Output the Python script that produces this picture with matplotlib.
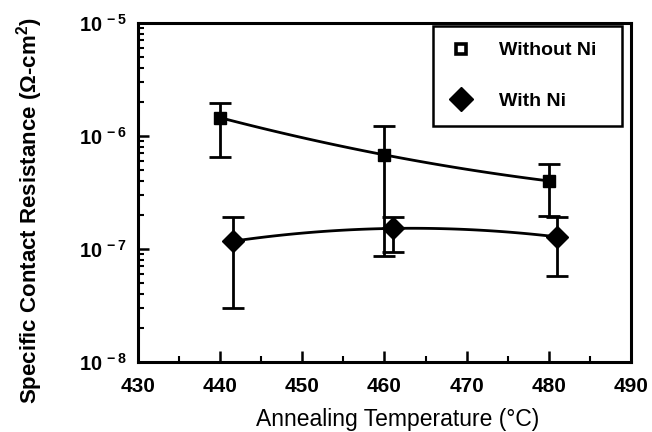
import numpy as np
import matplotlib
matplotlib.use("Agg")
import matplotlib.pyplot as plt
from matplotlib.lines import Line2D
from matplotlib.ticker import FixedLocator, LogLocator, FuncFormatter, NullFormatter

plt.rcParams['font.family'] = ['Liberation Sans', 'DejaVu Sans']
plt.rcParams['mathtext.fontset'] = 'custom'
plt.rcParams['mathtext.rm'] = 'Liberation Sans'
plt.rcParams['mathtext.bf'] = 'Liberation Sans:bold'

# Without Ni (squares)
temp_without = [440.0, 460.0, 480.0]
rc_without = [1.45e-6, 6.8e-7, 4.0e-7]
rc_without_hi = [1.95e-6, 1.23e-6, 5.7e-7]
rc_without_lo = [6.5e-7, 8.6e-8, 1.95e-7]

# With Ni (diamonds)
temp_with = [441.5, 461.0, 481.0]
rc_with = [1.17e-7, 1.52e-7, 1.28e-7]
rc_with_hi = [1.92e-7, 1.92e-7, 1.92e-7]
rc_with_lo = [3.0e-8, 9.4e-8, 5.8e-8]

x_ticks = [430, 440, 450, 460, 470, 480, 490]


def smooth_curve(x, y):
    # quadratic through the three points, in log space
    c = np.polyfit(x, np.log10(y), 2)
    xs = np.linspace(x[0], x[-1], 100)
    return xs, 10 ** np.polyval(c, xs)


fig = plt.figure(figsize=(6.52, 4.32), dpi=100)
ax = fig.add_axes([0.2117, 0.162, 0.756, 0.785])

for x, y, hi, lo, mk, ms in [
    (temp_without, rc_without, rc_without_hi, rc_without_lo, 's', 8),
    (temp_with, rc_with, rc_with_hi, rc_with_lo, 'D', 11),
]:
    xs, ys = smooth_curve(x, y)
    ax.plot(xs, ys, color='black', lw=2, zorder=2)
    yerr = [np.array(y) - np.array(lo), np.array(hi) - np.array(y)]
    ax.errorbar(x, y, yerr=yerr, fmt='none', ecolor='black', elinewidth=2,
                capsize=8, capthick=2, zorder=3)
    ax.plot(x, y, linestyle='none', marker=mk, ms=ms, color='black', zorder=4)

ax.set_yscale('log')
ax.set_xlim(430, 490)
ax.set_ylim(1e-8, 1e-5)

ax.xaxis.set_major_locator(FixedLocator(x_ticks))
ax.xaxis.set_minor_locator(FixedLocator([435, 445, 455, 465, 475, 485]))
ax.yaxis.set_major_locator(LogLocator(base=10, numticks=10))
ax.yaxis.set_minor_locator(LogLocator(base=10, subs=np.arange(2, 10), numticks=10))
ax.yaxis.set_minor_formatter(NullFormatter())
ax.yaxis.set_major_formatter(FuncFormatter(
    lambda v, p: r'$\mathbf{10^{\,%d}}$' % int(round(np.log10(v)))))

ax.tick_params(axis='both', which='major', direction='in', length=8, width=1.8,
               top=False, right=False)
ax.tick_params(axis='both', which='minor', direction='in', length=4, width=1.5,
               top=False, right=False)
ax.tick_params(axis='x', pad=11, labelsize=15)
ax.tick_params(axis='y', pad=8, labelsize=14.5)
for lab in ax.get_xticklabels():
    lab.set_fontweight('bold')

for s in ax.spines.values():
    s.set_linewidth(2.2)

ax.set_xlabel('Annealing Temperature (°C)', fontsize=16.5)
ax.xaxis.set_label_coords(0.527, -0.135)
ax.set_ylabel('Specific Contact Resistance (Ω-cm$^{\\mathbf{2}}$)', fontsize=16,
              fontweight='bold')
ax.yaxis.set_label_coords(-0.188, 0.445)

handles = [
    Line2D([], [], linestyle='none', marker='s', ms=7, mfc='white', mec='black', mew=2.6),
    Line2D([], [], linestyle='none', marker='D', ms=12, color='black'),
]
leg = ax.legend(handles, ['Without Ni', 'With Ni'], loc='upper left',
                bbox_to_anchor=(0.598, 0.99, 0.384, 0.0), mode='expand',
                fancybox=False, framealpha=1, edgecolor='black',
                prop={'size': 14, 'weight': 'bold'}, labelspacing=1.7,
                borderpad=0.8, handletextpad=1.3, handlelength=1.3,
                borderaxespad=0)
leg.get_frame().set_linewidth(1.8)

fig.savefig('out.png', dpi=100)
